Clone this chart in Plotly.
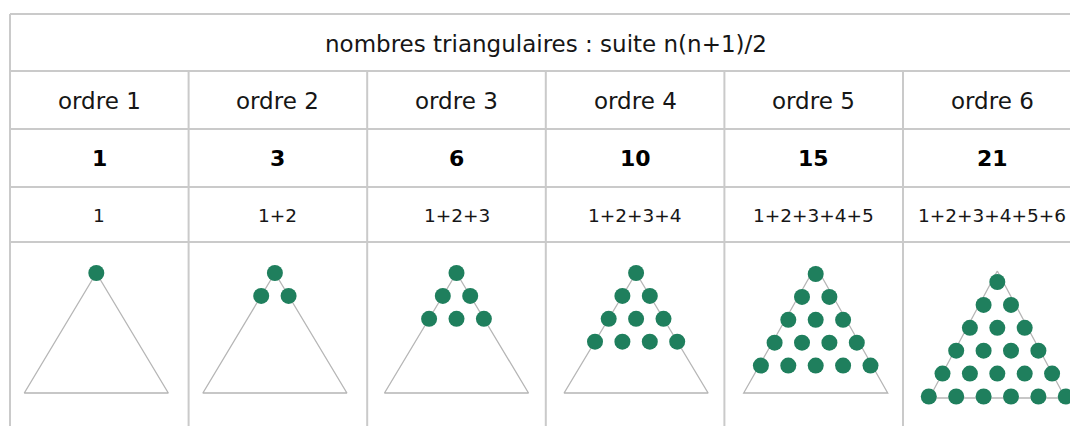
import plotly.graph_objects as go

# ---- data ----
orders = [1, 2, 3, 4, 5, 6]
order_labels = ["ordre 1", "ordre 2", "ordre 3", "ordre 4", "ordre 5", "ordre 6"]
values = [1, 3, 6, 10, 15, 21]
sums = ["1", "1+2", "1+2+3", "1+2+3+4", "1+2+3+4+5", "1+2+3+4+5+6"]
title_text = "nombres triangulaires : suite n(n+1)/2"

# ---- layout constants (pixel space of the screenshot) ----
W, H = 1070, 426
LEFT = 10
COL_W = 178.6
ROW_Y = [14, 71, 129, 187, 242]
GRID = "#cacaca"
TRI = "#b5b5b5"
GREEN = "#1f7f5d"
TEXT = "#161616"
FONT = "DejaVu Sans"

apex_dx = [-3, -3, 0, 1, 2, 5]
dot_top = [273, 273, 273, 273, 274, 282]
tri_top = [273, 273, 273, 273, 266, 271]
tri_base = [393, 393, 393, 393, 393, 398]
tri_half = [72, 72, 72, 72, 72, 68]
DX, DY = 27.4, 22.9
DOT = 16

fig = go.Figure()

shapes = []
for y in ROW_Y:
    shapes.append(dict(type="line", x0=LEFT, x1=W + 20, y0=y, y1=y,
                       line=dict(color=GRID, width=2)))
shapes.append(dict(type="line", x0=LEFT, x1=LEFT, y0=ROW_Y[0], y1=H + 20,
                   line=dict(color=GRID, width=2)))
for i in range(1, len(orders)):
    x = LEFT + COL_W * i
    shapes.append(dict(type="line", x0=x, x1=x, y0=ROW_Y[1], y1=H + 20,
                       line=dict(color=GRID, width=2)))

annotations = []
annotations.append(dict(x=LEFT + COL_W * len(orders) / 2, y=(ROW_Y[0] + ROW_Y[1]) / 2 + 1,
                        text=title_text, showarrow=False,
                        font=dict(family=FONT, size=23, color=TEXT)))

for i, n in enumerate(orders):
    cx = LEFT + COL_W * (i + 0.5)
    annotations.append(dict(x=cx, y=(ROW_Y[1] + ROW_Y[2]) / 2 + 1, text=order_labels[i],
                            showarrow=False, font=dict(family=FONT, size=23, color=TEXT)))
    annotations.append(dict(x=cx, y=(ROW_Y[2] + ROW_Y[3]) / 2, text="<b>%d</b>" % values[i],
                            showarrow=False, font=dict(family=FONT, size=22, color="#000")))
    annotations.append(dict(x=cx, y=(ROW_Y[3] + ROW_Y[4]) / 2 + 1, text=sums[i],
                            showarrow=False, font=dict(family=FONT, size=18.5, color=TEXT)))

    ax = cx + apex_dx[i]
    fig.add_trace(go.Scatter(
        x=[ax, ax + tri_half[i], ax - tri_half[i], ax],
        y=[tri_top[i], tri_base[i], tri_base[i], tri_top[i]],
        mode="lines", line=dict(color=TRI, width=1.3),
        hoverinfo="skip", showlegend=False))

for i, n in enumerate(orders):
    cx = LEFT + COL_W * (i + 0.5)
    ax = cx + apex_dx[i]
    xs, ys = [], []
    for r in range(n):
        for k in range(r + 1):
            xs.append(ax + (k - r / 2) * DX)
            ys.append(dot_top[i] + r * DY)
    assert len(xs) == values[i]
    fig.add_trace(go.Scatter(
        x=xs, y=ys, mode="markers",
        marker=dict(size=DOT, color=GREEN, line=dict(width=0)),
        hoverinfo="skip", showlegend=False))

fig.update_layout(
    width=W, height=H,
    margin=dict(l=0, r=0, t=0, b=0),
    paper_bgcolor="white", plot_bgcolor="white",
    xaxis=dict(range=[0, W], visible=False, fixedrange=True),
    yaxis=dict(range=[H, 0], visible=False, fixedrange=True),
    shapes=shapes, annotations=annotations,
)

fig.write_html(
    "out.html",
    config={"displayModeBar": False},
    post_script="document.body.style.margin='0px';document.body.style.overflow='hidden';",
)
